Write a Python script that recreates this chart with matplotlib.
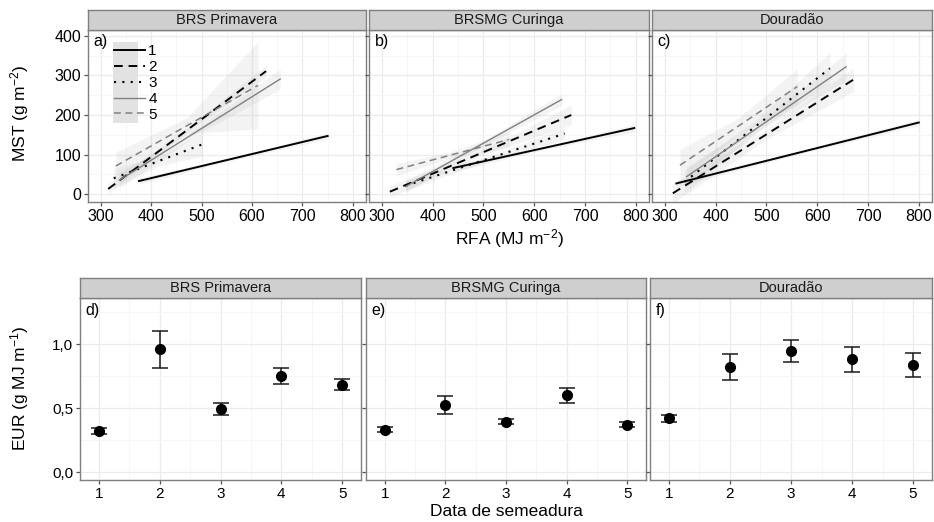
import numpy as np
import matplotlib.pyplot as plt
from matplotlib.patches import Rectangle
from matplotlib.lines import Line2D
from matplotlib.ticker import MultipleLocator, FuncFormatter

plt.rcParams['font.family'] = ['Liberation Sans', 'DejaVu Sans']
plt.rcParams['mathtext.default'] = 'regular'

# ---- data ----
cultivars = ['BRS Primavera', 'BRSMG Curinga', 'Douradão']
tags_top = ['a)', 'b)', 'c)']
tags_bottom = ['d)', 'e)', 'f)']
sowing = [1, 2, 3, 4, 5]
series_labels = ['1', '2', '3', '4', '5']

# regression lines MST vs RFA: start/end x and y, per cultivar, per sowing date
rfa_start = [[376, 315, 326, 337, 330],
             [441, 316, 347, 347, 329],
             [323, 316, 339, 343, 330]]
rfa_end = [[750, 628, 502, 656, 612],
           [797, 673, 660, 654, 550],
           [800, 672, 625, 657, 561]]
mst_start = [[33, 13, 40, 35, 71],
             [66, 6, 21, 19, 62],
             [27, 2, 31, 44, 73]]
mst_end = [[147, 311, 126, 291, 275],
           [167, 200, 153, 239, 138],
           [181, 290, 318, 322, 272]]
# confidence band half width at start, middle, end of each line
band_hw = [[(8, 4, 8), (12, 6, 15), (25, 12, 30), (20, 8, 25), (35, 20, 110)],
           [(10, 4, 10), (15, 6, 25), (12, 5, 15), (15, 6, 15), (15, 8, 20)],
           [(8, 4, 8), (25, 12, 30), (30, 15, 40), (25, 12, 35), (40, 20, 45)]]

# EUR by sowing date: mean and error bar limits
eur_mean = [[0.32, 0.96, 0.49, 0.75, 0.68],
            [0.33, 0.52, 0.39, 0.60, 0.37],
            [0.42, 0.82, 0.945, 0.88, 0.835]]
eur_low = [[0.297, 0.81, 0.445, 0.688, 0.64],
           [0.312, 0.453, 0.372, 0.542, 0.354],
           [0.388, 0.719, 0.862, 0.781, 0.74]]
eur_high = [[0.346, 1.104, 0.537, 0.81, 0.724],
            [0.352, 0.594, 0.417, 0.656, 0.388],
            [0.445, 0.922, 1.03, 0.977, 0.93]]

# ---- styles ----
line_colors = ['black', 'black', 'black', '#808080', '#808080']
line_styles = ['-', (0, (4.5, 3)), (0, (1, 3)), '-', (0, (4.5, 3))]
line_widths = [1.4, 1.4, 1.5, 1.0, 1.1]
edge = '#7f7f7f'

W, H = 934, 522
fig = plt.figure(figsize=(W / 100, H / 100), dpi=100)


def px_axes(x0, y0, x1, y1):
    return fig.add_axes([x0 / W, 1 - y1 / H, (x1 - x0) / W, (y1 - y0) / H])


def style_panel(ax, tag):
    ax.set_facecolor('white')
    ax.grid(which='major', color='#ebebeb', lw=0.9, zorder=0)
    ax.grid(which='minor', color='#f6f6f6', lw=0.7, zorder=0)
    ax.set_axisbelow(True)
    for s in ax.spines.values():
        s.set_color(edge)
        s.set_linewidth(1.0)
    ax.tick_params(which='major', length=3, width=0.9, color='#555555', pad=2)
    ax.tick_params(which='minor', length=0)
    ax.text(0.02, 0.975, tag, transform=ax.transAxes, ha='left', va='top',
            fontsize=11.5)


def add_strip(ax, text):
    pos = ax.get_position()
    sax = fig.add_axes([pos.x0, pos.y1, pos.width, 20 / H])
    sax.set_facecolor('#cfcfcf')
    sax.set_xticks([])
    sax.set_yticks([])
    for s in sax.spines.values():
        s.set_color(edge)
        s.set_linewidth(1.0)
    sax.text(0.5, 0.5, text, ha='center', va='center', fontsize=10.5,
             color='#1a1a1a')


top_boxes = [(88, 30, 366, 202), (369, 30, 649, 202), (652, 30, 932, 202)]
bot_boxes = [(80, 298, 361, 480), (366, 298, 646, 480), (650, 298, 932, 480)]

# ---- top row: MST vs RFA ----
for i, box in enumerate(top_boxes):
    ax = px_axes(*box)
    for j in range(5):
        xs = [rfa_start[i][j], rfa_end[i][j]]
        ys = [mst_start[i][j], mst_end[i][j]]
        xm = (xs[0] + xs[1]) / 2
        ym = (ys[0] + ys[1]) / 2
        hw = band_hw[i][j]
        ax.fill_between([xs[0], xm, xs[1]],
                        [ys[0] - hw[0], ym - hw[1], ys[1] - hw[2]],
                        [ys[0] + hw[0], ym + hw[1], ys[1] + hw[2]],
                        color='#b8b8b8', alpha=0.17, lw=0, zorder=1)
        ax.plot(xs, ys, color=line_colors[j], ls=line_styles[j],
                lw=line_widths[j], zorder=3)
    ax.set_xlim(275, 826)
    ax.set_ylim(-20, 415)
    ax.xaxis.set_major_locator(MultipleLocator(100))
    ax.xaxis.set_minor_locator(MultipleLocator(50))
    ax.yaxis.set_major_locator(MultipleLocator(100))
    ax.yaxis.set_minor_locator(MultipleLocator(50))
    ax.tick_params(labelsize=11.5)
    if i > 0:
        ax.tick_params(axis='y', labelleft=False, length=0)
    style_panel(ax, tags_top[i])
    add_strip(ax, cultivars[i])

    if i == 0:
        # legend with grey key background
        ax.add_patch(Rectangle((0.09, 0.46), 0.09, 0.47, transform=ax.transAxes,
                               facecolor='#e2e2e2', edgecolor='none',
                               zorder=6))
        handles = [Line2D([], [], color=line_colors[k], ls=line_styles[k],
                          lw=line_widths[k]) for k in range(5)]
        leg = ax.legend(handles, series_labels, loc='upper left',
                        bbox_to_anchor=(0.088, 0.925), frameon=False,
                        fontsize=11, handlelength=2.0, handletextpad=0.25,
                        labelspacing=0.12, borderpad=0.1, borderaxespad=0)
        leg.set_zorder(7)

# ---- bottom row: EUR by sowing date ----
for i, box in enumerate(bot_boxes):
    ax = px_axes(*box)
    m = np.array(eur_mean[i])
    lo = np.array(eur_low[i])
    hi = np.array(eur_high[i])
    ax.errorbar(sowing, m, yerr=[m - lo, hi - m], fmt='o', color='black',
                ecolor='#1a1a1a', elinewidth=1.1, capsize=5.5, capthick=1.1,
                markersize=7, zorder=3)
    ax.set_xlim(0.69, 5.31)
    ax.set_ylim(-0.0625, 1.36)
    ax.set_xticks(sowing)
    ax.xaxis.set_minor_locator(MultipleLocator(0.5))
    ax.yaxis.set_major_locator(MultipleLocator(0.5))
    ax.yaxis.set_minor_locator(MultipleLocator(0.25))
    ax.yaxis.set_major_formatter(FuncFormatter(lambda v, p: f'{v:.1f}'.replace('.', ',')))
    ax.tick_params(labelsize=11)
    if i > 0:
        ax.tick_params(axis='y', labelleft=False, length=0)
    style_panel(ax, tags_bottom[i])
    add_strip(ax, cultivars[i])

# axis titles
fig.text(20 / W, 1 - 113 / H, 'MST (g m$^{-2}$)', rotation=90, ha='center',
         va='center', fontsize=12.5)
fig.text(510 / W, 1 - 239 / H, 'RFA (MJ m$^{-2}$)', ha='center', va='center',
         fontsize=12.5)
fig.text(20 / W, 1 - 388 / H, 'EUR (g MJ m$^{-1}$)', rotation=90, ha='center',
         va='center', fontsize=12.5)
fig.text(506 / W, 1 - 511 / H, 'Data de semeadura', ha='center', va='center',
         fontsize=12.5)

fig.savefig('out.png', dpi=100)
